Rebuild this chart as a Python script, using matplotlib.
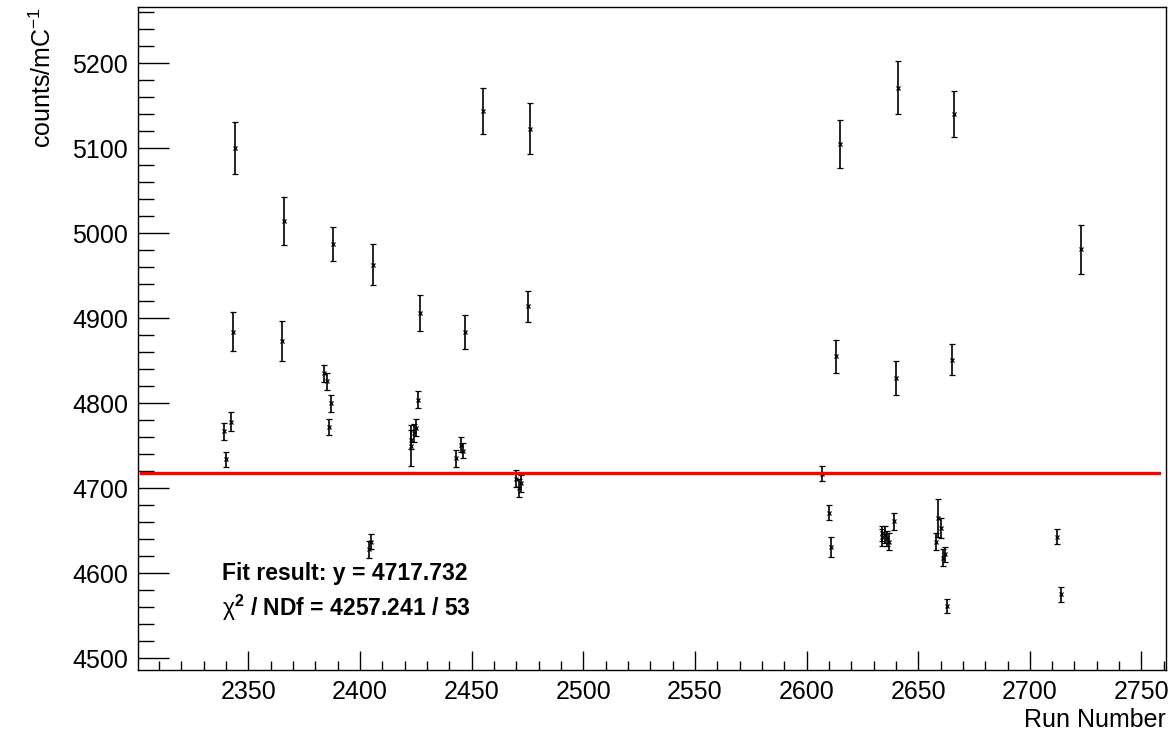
"""Run-by-run yield with constant fit (ROOT-style canvas)."""

import numpy as np
import matplotlib
matplotlib.use("Agg")
import matplotlib.pyplot as plt
from matplotlib.ticker import MultipleLocator

plt.rcParams["font.family"] = ["Liberation Sans", "DejaVu Sans"]
plt.rcParams["mathtext.fontset"] = "custom"
plt.rcParams["mathtext.rm"] = "Liberation Sans"
plt.rcParams["mathtext.it"] = "Liberation Sans:italic"
plt.rcParams["mathtext.bf"] = "Liberation Sans:bold"

# data
runs = [2339, 2340, 2342, 2343, 2344, 2365, 2366,
        2384, 2385, 2386, 2387, 2388, 2404, 2405, 2406,
        2423, 2423, 2424, 2425, 2426, 2427,
        2443, 2445, 2446, 2447, 2455,
        2470, 2471, 2472, 2475, 2476,
        2607, 2610, 2611, 2613, 2615,
        2634, 2634, 2635, 2636, 2637, 2639, 2640, 2641,
        2658, 2659, 2660, 2661, 2662, 2663, 2665, 2666,
        2712, 2714, 2723]
counts = [4767, 4734, 4778, 4884, 5100, 4873, 5014,
          4835, 4826, 4772, 4800, 4987, 4628, 4637, 4963,
          4757, 4750, 4765, 4771, 4804, 4906,
          4735, 4751, 4744, 4884, 5144,
          4711, 4700, 4706, 4914, 5123,
          4717, 4671, 4631, 4855, 5105,
          4647, 4642, 4645, 4641, 4637, 4661, 4830, 5171,
          4637, 4665, 4653, 4618, 4622, 4561, 4851, 5140,
          4643, 4575, 4981]
errors = [10, 9, 11, 23, 31, 24, 28,
          10, 10, 9, 10, 20, 10, 9, 24,
          11, 24, 11, 10, 10, 21,
          10, 9, 9, 20, 27,
          10, 11, 10, 18, 30,
          9, 9, 12, 19, 28,
          9, 10, 10, 9, 10, 10, 20, 31,
          10, 22, 12, 10, 9, 8, 18, 27,
          9, 9, 29]

fit_value = 4717.732
fit_range = [2302, 2758]
chi2_text = "4257.241 / 53"

fig = plt.figure(figsize=(11.72, 7.35), dpi=100)
ax = fig.add_axes([0.1177, 0.0884, 0.8772, 0.9021])

ax.errorbar(runs, counts, yerr=errors, fmt="x", color="k", ms=3.5, mew=0.9,
            elinewidth=1.2, capsize=2.3, capthick=1.2, zorder=3)
ax.plot(fit_range, [fit_value, fit_value], color="#ff0000", lw=2.4, zorder=4)

ax.set_xlim(2300.5, 2761)
ax.set_ylim(4486, 5266)
ax.xaxis.set_major_locator(MultipleLocator(50))
ax.xaxis.set_minor_locator(MultipleLocator(10))
ax.yaxis.set_major_locator(MultipleLocator(100))
ax.yaxis.set_minor_locator(MultipleLocator(20))
ax.tick_params(axis="both", which="both", direction="in", width=1.0,
               labelsize=18, top=False, right=False)
ax.tick_params(axis="x", which="major", length=13.7, pad=7)
ax.tick_params(axis="x", which="minor", length=6.8)
ax.tick_params(axis="y", which="major", length=22.3, pad=7)
ax.tick_params(axis="y", which="minor", length=11.3)
for sp in ax.spines.values():
    sp.set_linewidth(1.0)

ax.set_xlabel("Run Number", fontsize=18, loc="right", labelpad=3)
ax.set_ylabel("counts/mC$^{-1}$", fontsize=18, loc="top", labelpad=12)

ax.text(0.082, 0.145, f"Fit result: y = {fit_value:.3f}", transform=ax.transAxes,
        fontsize=16.5, fontweight="bold", va="center", ha="left")
ax.text(0.082, 0.093, r"$\mathrm{\chi}^{\mathbf{2}}$ / NDf = " + chi2_text,
        transform=ax.transAxes, fontsize=16.5, fontweight="bold",
        va="center", ha="left")

fig.savefig("out.png", dpi=100)
plt.close(fig)
